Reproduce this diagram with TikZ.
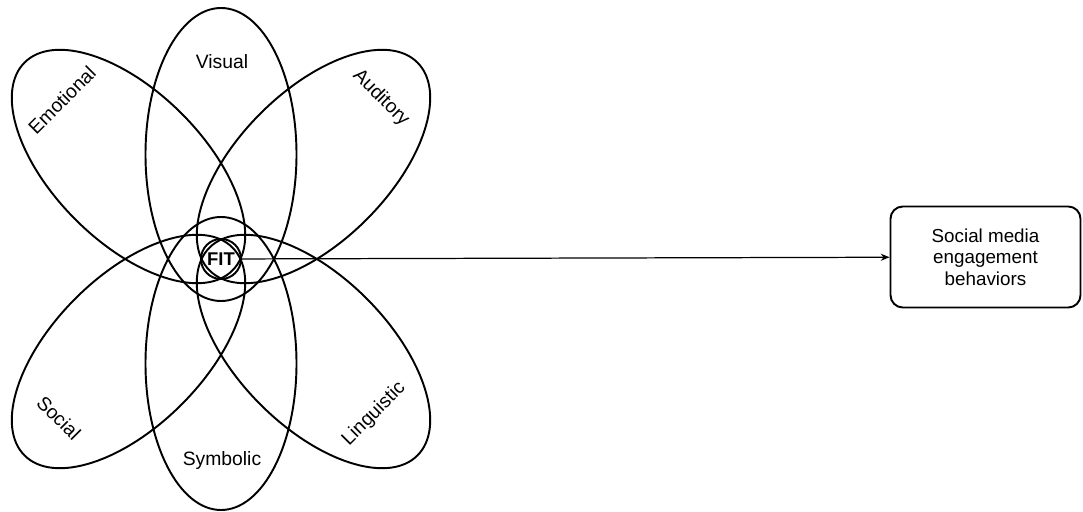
\documentclass[tikz,border=0pt]{standalone}
\usepackage{fontspec}
\setmainfont{Liberation Sans}
\usetikzlibrary{arrows.meta,positioning}

\begin{document}
\begin{tikzpicture}[line width=1.1pt,
  petal/.style={font=\fontsize{11}{13}\selectfont},
  outcome/.style={draw, rounded corners=7pt, minimum width=3.8cm, minimum height=2.02cm,
    align=center, font=\fontsize{10.7}{12.2}\selectfont}]
  \useasboundingbox (-4.42,-5.04) rectangle (17.24,5.18);
  \draw (0,2.09) ellipse [x radius=1.51, y radius=2.93];
  \draw (0,-2.09) ellipse [x radius=1.51, y radius=2.93];
  \draw[rotate around={-45:(-1.85,1.85)}] (-1.85,1.85) ellipse [x radius=2.94, y radius=1.5];
  \draw[rotate around={45:(1.85,1.85)}] (1.85,1.85) ellipse [x radius=2.94, y radius=1.5];
  \draw[rotate around={45:(-1.85,-1.85)}] (-1.85,-1.85) ellipse [x radius=2.94, y radius=1.5];
  \draw[rotate around={-45:(1.85,-1.85)}] (1.85,-1.85) ellipse [x radius=2.94, y radius=1.5];
  \node[draw, circle, minimum size=0.8cm, inner sep=0pt,
    font=\bfseries\fontsize{10.5}{12}\selectfont] (fit) at (0,0) {FIT};
  \node[petal] (visual) at (0.02,3.94) {Visual};
  \node[petal, rotate=45] (emotional) at (-3.18,3.18) {Emotional};
  \node[petal, rotate=-45] (auditory) at (3.2,3.22) {Auditory};
  \node[petal, rotate=-45] (social) at (-3.24,-3.18) {Social};
  \node[petal, rotate=45] (linguistic) at (3.06,-3.1) {Linguistic};
  \node[petal] (symbolic) at (0.02,-4.02) {Symbolic};
  \node[outcome] (smeb) at (15.29,0.04) {Social media\\engagement\\behaviors};
  \draw[-{Stealth[length=5pt,width=4pt]}, line width=0.7pt] (fit) -- (smeb);
\end{tikzpicture}
\end{document}
